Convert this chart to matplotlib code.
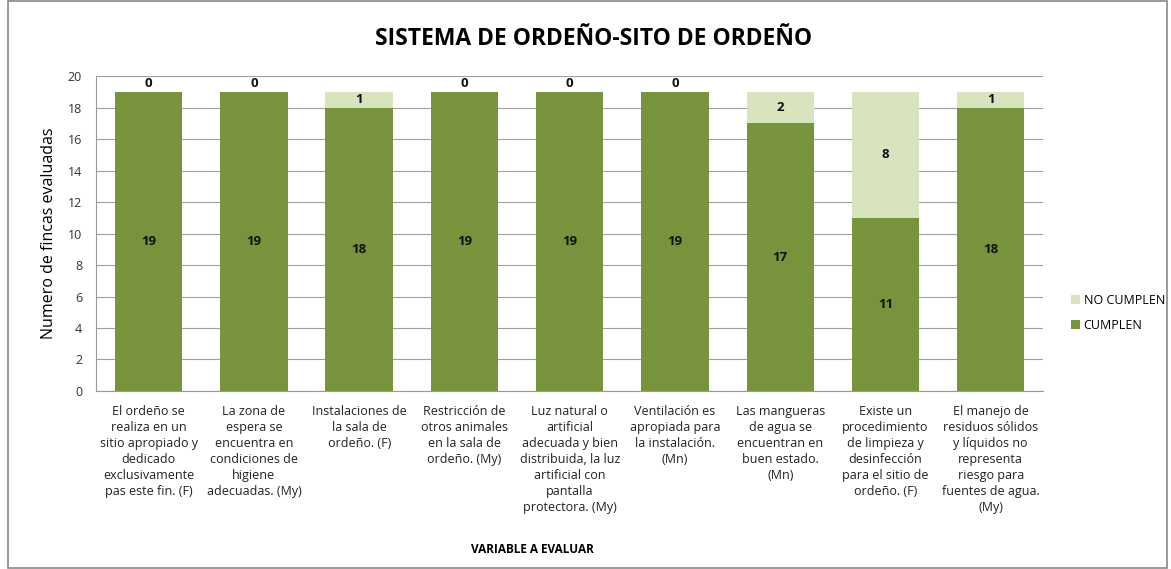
import matplotlib
import matplotlib.pyplot as plt
import numpy as np
from matplotlib.patches import Rectangle

matplotlib.use('Agg')
plt.rcParams['font.family'] = ['Open Sans', 'DejaVu Sans']

categories = [
    "El ordeño se\nrealiza en un\nsitio apropiado y\ndedicado\nexclusivamente\npas este fin. (F)",
    "La zona de\nespera se\nencuentra en\ncondiciones de\nhigiene\nadecuadas. (My)",
    "Instalaciones de\nla sala de\nordeño. (F)",
    "Restricción de\notros animales\nen la sala de\nordeño. (My)",
    "Luz natural o\nartificial\nadecuada y bien\ndistribuida, la luz\nartificial con\npantalla\nprotectora. (My)",
    "Ventilación es\napropiada para\nla instalación.\n(Mn)",
    "Las mangueras\nde agua se\nencuentran en\nbuen estado.\n(Mn)",
    "Existe un\nprocedimiento\nde limpieza y\ndesinfección\npara el sitio de\nordeño. (F)",
    "El manejo de\nresiduos sólidos\ny líquidos no\nrepresenta\nriesgo para\nfuentes de agua.\n(My)",
]
cumplen = [19, 19, 18, 19, 19, 19, 17, 11, 18]
no_cumplen = [0, 0, 1, 0, 0, 0, 2, 8, 1]

dark = '#77933C'
light = '#D7E4BD'

fig = plt.figure(figsize=(11.71, 5.69), dpi=100)
ax = fig.add_axes([0.082, 0.313, 0.809, 0.553])

x = np.arange(len(categories))
w = 0.64
ax.bar(x, cumplen, w, color=dark, label='CUMPLEN', zorder=2)
ax.bar(x, no_cumplen, w, bottom=cumplen, color=light, label='NO CUMPLEN', zorder=2)

for i in range(len(x)):
    ax.text(x[i], cumplen[i] / 2, str(cumplen[i]), ha='center', va='center',
            fontsize=9.5, fontweight='bold', color='#111111')
    if no_cumplen[i] > 0:
        ax.text(x[i], cumplen[i] + no_cumplen[i] / 2, str(no_cumplen[i]), ha='center',
                va='center', fontsize=9.5, fontweight='bold', color='#111111')
    else:
        ax.text(x[i], cumplen[i] + 0.15, '0', ha='center', va='bottom',
                fontsize=9.5, fontweight='bold', color='#111111')

ax.set_xlim(-0.5, len(x) - 0.5)
ax.set_ylim(0, 20)
ax.set_yticks(range(0, 21, 2))
ax.set_xticks(x)
ax.set_xticklabels(categories, fontsize=9, color='#222222', linespacing=1.3)
ax.tick_params(axis='x', length=0, pad=10)
ax.tick_params(axis='y', labelsize=9, colors='#333333', length=0, pad=10)
ax.grid(axis='y', color='#a0a0a0', linewidth=0.8, zorder=0)
for s in ['top', 'right']:
    ax.spines[s].set_visible(False)
ax.spines['left'].set_color('#999999')
ax.spines['bottom'].set_color('#999999')

ax.set_ylabel('Numero de fincas evaluadas', fontsize=11.5, color='black', labelpad=8)
fig.text(0.455, 0.035, 'VARIABLE A EVALUAR', ha='center', va='center',
         fontsize=8.5, fontweight='bold')
fig.text(0.507, 0.932, 'SISTEMA DE ORDEÑO-SITO DE ORDEÑO', ha='center', va='center',
         fontsize=16.5, fontweight='bold')

h, l = ax.get_legend_handles_labels()
fig.legend(h[::-1], l[::-1], loc='center left', bbox_to_anchor=(0.905, 0.45),
           frameon=False, fontsize=9, handlelength=0.7, handleheight=0.7,
           handletextpad=0.3, labelspacing=1.0)

fig.patches.append(Rectangle((0.007, 0.002), 0.99, 0.996, transform=fig.transFigure,
                             fill=False, edgecolor='#888888', linewidth=1.2))

fig.savefig('out.png', dpi=100)
